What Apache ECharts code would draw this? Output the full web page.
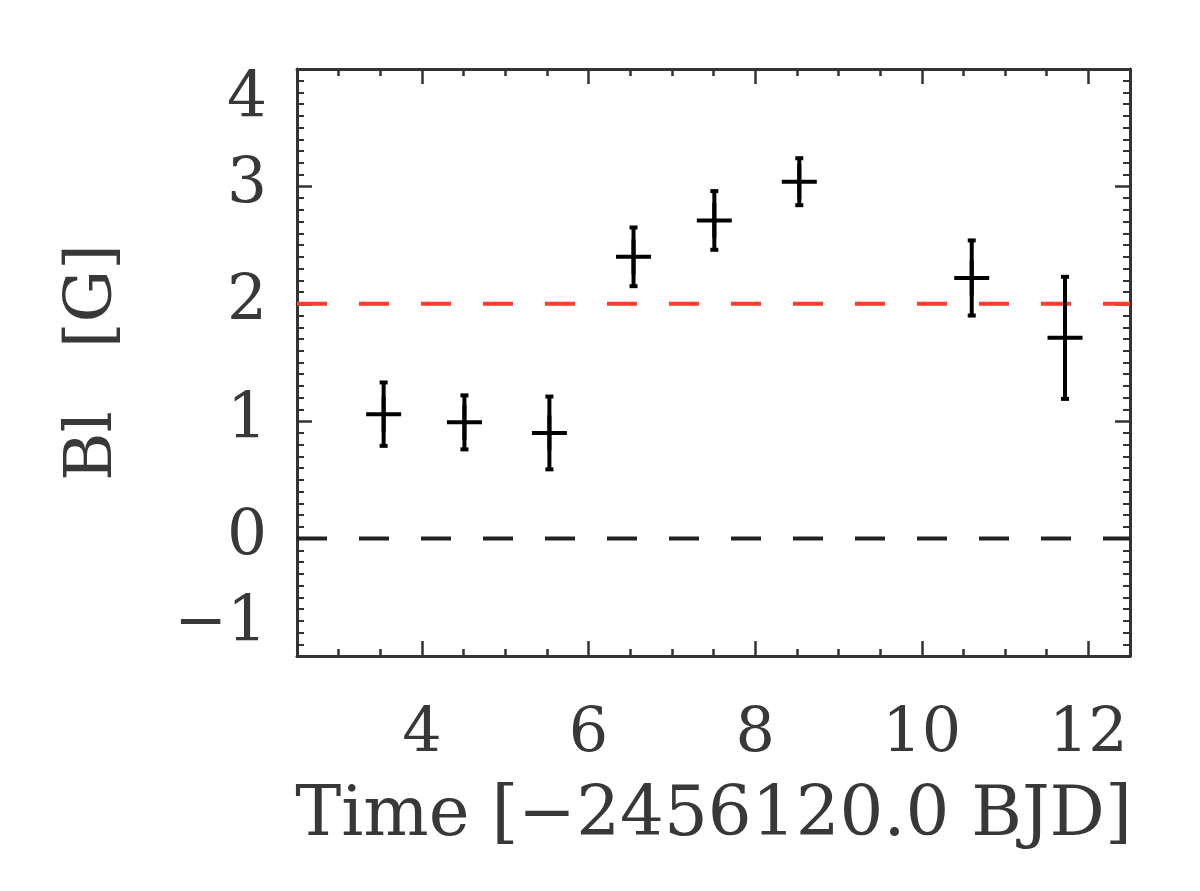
<!DOCTYPE html>
<html>
<head>
<meta charset="utf-8">
<script src="https://cdn.jsdelivr.net/npm/echarts@6/dist/echarts.min.js"></script>
<style>
html,body{margin:0;padding:0;background:#fff;}
#chart{width:1200px;height:891px;}
</style>
</head>
<body>
<div id="chart"></div>
<script>
// Observation times [BJD - 2456120.0]
var times = [3.54, 4.51, 5.53, 6.54, 7.51, 8.53, 10.60, 11.72];
// Longitudinal field B_l [G]
var bValues = [1.06, 0.99, 0.90, 2.40, 2.71, 3.04, 2.22, 1.71];
// 1-sigma errors [G]
var bErrors = [0.27, 0.23, 0.31, 0.25, 0.25, 0.20, 0.32, 0.52];
// x-axis labelled ticks
var xTickLabels = [4, 6, 8, 10, 12];
// reference levels: zero line and detection level
var zeroLevel = 0;
var refLevel = 2;

var FONT = 'DejaVu Serif';
var TXT = '#383838';
var FRAME = '#333';

var xMin = 2.5, xMax = 12.5, yMin = -1, yMax = 4;

var chart = echarts.init(document.getElementById('chart'), null, {renderer: 'canvas'});

function xAxisBase(pos, major, labels) {
  var a = {
    type: 'value', position: pos, min: xMin, max: xMax,
    axisLine: {show: true, onZero: false, lineStyle: {color: FRAME, width: 3}},
    splitLine: {show: false},
    axisLabel: {show: false},
    axisTick: {show: true, inside: true, lineStyle: {color: FRAME, width: 2.5}}
  };
  if (major) {
    a.axisTick.customValues = xTickLabels;
    a.axisTick.length = 15;
    if (labels) {
      a.axisLabel = {
        show: true, customValues: xTickLabels, margin: 48,
        fontFamily: FONT, fontSize: 62, color: TXT
      };
      a.name = 'Time [\u22122456120.0 BJD]';
      a.nameLocation = 'middle';
      a.nameGap = 127;
      a.nameTextStyle = {fontFamily: FONT, fontSize: 69, color: TXT};
    }
  } else {
    a.interval = 0.5;
    a.axisTick.length = 7;
    a.axisLine.show = false;
  }
  return a;
}

function yAxisBase(pos, labels) {
  var a = {
    type: 'value', position: pos, min: yMin, max: yMax, interval: 1,
    axisLine: {show: true, onZero: false, lineStyle: {color: FRAME, width: 3}},
    splitLine: {show: false},
    axisTick: {show: true, inside: true, length: 15, lineStyle: {color: FRAME, width: 2.5}},
    minorTick: {show: true, splitNumber: 10, length: 7, lineStyle: {color: FRAME, width: 2}},
    minorSplitLine: {show: false},
    axisLabel: {show: false}
  };
  if (labels) {
    a.axisLabel = {
      show: true, margin: 30, fontFamily: FONT, fontSize: 63, color: TXT,
      verticalAlignMaxLabel: 'top', verticalAlignMinLabel: 'bottom',
      formatter: function (v) { return v < 0 ? '\u2212' + Math.abs(v) : String(v); }
    };
    a.name = 'Bl   [G]';
    a.nameLocation = 'middle';
    a.nameGap = 170;
    a.nameTextStyle = {fontFamily: FONT, fontSize: 66, color: TXT};
  }
  return a;
}

var points = times.map(function (t, i) { return [t, bValues[i], bErrors[i]]; });

var option = {
  backgroundColor: '#fff',
  animation: false,
  grid: {left: 297, right: 70, top: 69, bottom: 235, containLabel: false},
  xAxis: [
    xAxisBase('bottom', true, true),
    xAxisBase('bottom', false, false),
    xAxisBase('top', true, false),
    xAxisBase('top', false, false)
  ],
  yAxis: [
    yAxisBase('left', true),
    yAxisBase('right', false)
  ],
  series: [
    {
      type: 'line', xAxisIndex: 0, yAxisIndex: 0, symbol: 'none',
      data: [[xMin, refLevel], [xMax, refLevel]],
      lineStyle: {color: '#ff3b2e', width: 4, type: [30, 32]},
      z: 3, silent: true
    },
    {
      type: 'line', xAxisIndex: 0, yAxisIndex: 0, symbol: 'none',
      data: [[xMin, zeroLevel], [xMax, zeroLevel]],
      lineStyle: {color: '#222', width: 4, type: [30, 32]},
      z: 3, silent: true
    },
    {
      type: 'custom', xAxisIndex: 0, yAxisIndex: 0, z: 5,
      data: points,
      renderItem: function (params, api) {
        var x = api.value(0), y = api.value(1), e = api.value(2);
        var c = api.coord([x, y]);
        var top = api.coord([x, y + e]);
        var bot = api.coord([x, y - e]);
        var h = 17.5, cap = 4;
        var st = {stroke: '#000', lineWidth: 4, fill: null};
        return {
          type: 'group',
          children: [
            {type: 'line', shape: {x1: c[0], y1: top[1], x2: c[0], y2: bot[1]}, style: st},
            {type: 'line', shape: {x1: c[0] - cap, y1: top[1], x2: c[0] + cap, y2: top[1]}, style: st},
            {type: 'line', shape: {x1: c[0] - cap, y1: bot[1], x2: c[0] + cap, y2: bot[1]}, style: st},
            {type: 'line', shape: {x1: c[0] - h, y1: c[1], x2: c[0] + h, y2: c[1]}, style: st},
            {type: 'line', shape: {x1: c[0], y1: c[1] - h, x2: c[0], y2: c[1] + h}, style: st}
          ]
        };
      }
    }
  ]
};
chart.setOption(option);
</script>
</body>
</html>
